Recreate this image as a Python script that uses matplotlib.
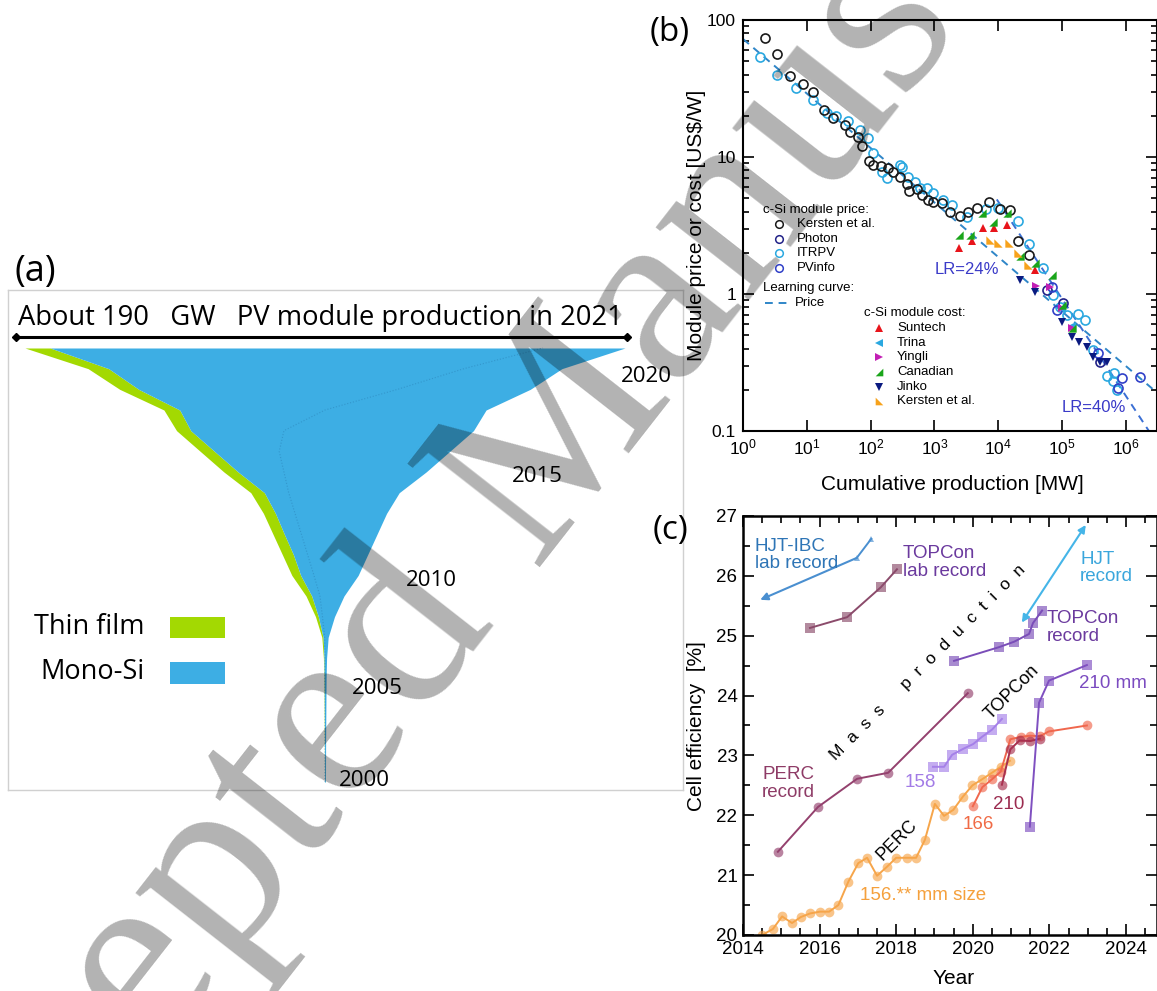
import matplotlib
matplotlib.use("Agg")
import matplotlib.pyplot as plt
import matplotlib.ticker as mticker
from matplotlib.lines import Line2D
from matplotlib.patches import Rectangle
from matplotlib.colors import to_rgba
import numpy as np

plt.rcParams['font.family'] = ['Liberation Sans', 'DejaVu Sans']

# ---------------- panel (a): PV module production per year [GW] ----------------
years_a = list(range(2000, 2022))
thin_film_gw = [0.05, 0.05, 0.05, 0.08, 0.1, 0.1, 0.2, 0.4, 0.9, 1.8, 2.8,
                3.5, 3.6, 3.8, 4.3, 4.5, 4.5, 4.5, 5.0, 6.0, 6.5, 8.0]
mono_si_gw = [0.1, 0.1, 0.12, 0.15, 0.2, 0.2, 0.3, 0.5, 1.3, 2.6, 4.2,
              4.5, 5.4, 6.2, 7.7, 14.5, 20.5, 29.5, 46, 82, 112.5, 156]
multi_si_gw = [0.15, 0.2, 0.23, 0.27, 0.3, 0.4, 0.5, 1.1, 3.8, 7.6, 14,
               19, 24, 29, 35, 45, 54, 60, 51, 42, 31, 26]
year_labels_a = ['2000', '2005', '2010', '2015', '2020']

# ---------------- panel (b): module price / cost vs cumulative production ----------------
kersten_price_x = [2.2, 3.4, 5.5, 8.7, 12.5, 18.6, 26, 40, 48, 63, 74, 94, 109, 145, 187,
                   224, 288, 370, 400, 540, 630, 800, 950, 1300, 1740, 2500, 3400, 4700,
                   7200, 10800, 15500, 20600, 30000]
kersten_price_y = [74, 56, 39, 34, 30, 22, 19.3, 17, 15.2, 14, 12, 9.4, 8.7, 8.6, 8.3,
                   7.8, 7.1, 6.3, 5.6, 5.8, 5.3, 4.85, 4.7, 4.6, 4.0, 3.7, 4.0, 4.25,
                   4.7, 4.17, 4.1, 2.44, 1.93]
itrpv_x = [1.85, 3.4, 6.8, 12.5, 21, 29, 44, 68, 91, 110, 150, 180, 290, 310, 390, 500,
           590, 760, 950, 1350, 1900, 3200, 6400, 10000, 20600, 30000, 50000, 72000,
           93000, 120000, 178000, 230000, 310000, 500000, 630000, 720000, 650000]
itrpv_y = [54, 40, 32, 26, 21, 20, 18.3, 15.7, 13.8, 10.7, 7.8, 7.0, 8.7, 8.45, 7.1, 6.6,
           5.95, 5.9, 5.5, 4.85, 4.5, 3.65, 4.17, 4.25, 3.4, 2.3, 1.55, 0.98,
           0.80, 0.70, 0.72, 0.65, 0.39, 0.25, 0.23, 0.20, 0.265]
photon_x = [58000, 105000, 400000]
photon_y = [1.07, 0.86, 0.32]
pvinfo_x = [69000, 84000, 365000, 760000, 870000, 1.66e6]
pvinfo_y = [1.12, 0.76, 0.37, 0.206, 0.245, 0.248]

suntech_x = [2450, 3900, 5800, 8600, 13700, 38000]
suntech_y = [2.17, 2.44, 3.03, 3.03, 3.19, 1.50]
trina_x = [100000, 145000]
trina_y = [0.78, 0.58]
yingli_x = [39000, 65000, 100000, 145000]
yingli_y = [1.14, 1.12, 0.79, 0.56]
canadian_x = [2450, 3600, 5600, 8300, 13700, 22000, 38000, 69000, 100000, 145000]
canadian_y = [2.70, 2.70, 3.9, 3.36, 3.9, 1.89, 1.68, 1.38, 0.83, 0.565]
jinko_x = [22000, 38000, 100000, 145000, 185000, 245000, 310000, 400000, 500000]
jinko_y = [1.27, 1.03, 0.625, 0.485, 0.447, 0.41, 0.347, 0.32, 0.32]
kersten_cost_x = [7400, 10000, 15000, 20500, 29500]
kersten_cost_y = [2.48, 2.36, 2.36, 2.0, 1.63]

lc24_x = [1, 3.1e6]
lc24_y = [72.7, 0.19]
lc40_x = [9.5e3, 2.3e6]
lc40_y = [4.9, 0.1]

# ---------------- panel (c): cell efficiency [%] vs year ----------------
perc_record_t = [2014.91, 2015.96, 2016.98, 2017.79, 2019.87]
perc_record_e = [21.39, 22.14, 22.61, 22.71, 24.04]
topcon_lab_t = [2015.75, 2016.72, 2017.60, 2018.02]
topcon_lab_e = [25.13, 25.31, 25.81, 26.11]
hjt_ibc_t = [2016.97, 2017.35]
hjt_ibc_e = [26.30, 26.62]
hjt_ibc_arrow_t = [2016.97, 2014.45]
hjt_ibc_arrow_e = [26.30, 25.60]
hjt_rec_arrow_t = [2021.28, 2022.95]
hjt_rec_arrow_e = [25.22, 26.85]
topcon_rec_t = [2019.51, 2020.69, 2021.08, 2021.47, 2021.57, 2021.81]
topcon_rec_e = [24.58, 24.81, 24.90, 25.03, 25.21, 25.42]
topcon158_t = [2018.96, 2019.25, 2019.46, 2019.75, 2020.01, 2020.24, 2020.50, 2020.76]
topcon158_e = [22.81, 22.81, 23.01, 23.11, 23.19, 23.31, 23.43, 23.61]
topcon210_t = [2021.49, 2021.73, 2021.99, 2022.98]
topcon210_e = [21.81, 23.88, 24.25, 24.51]
perc156_t = [2014.50, 2014.78, 2015.02, 2015.28, 2015.51, 2015.75, 2016.01, 2016.25,
             2016.49, 2016.75, 2017.01, 2017.24, 2017.50, 2017.76, 2018.00, 2018.28,
             2018.52, 2018.75, 2019.01, 2019.25, 2019.49, 2019.74, 2019.99, 2020.24,
             2020.50, 2020.73, 2020.97]
perc156_e = [20.0, 20.1, 20.31, 20.2, 20.3, 20.36, 20.39, 20.39, 20.5, 20.89, 21.2,
             21.29, 20.99, 21.14, 21.29, 21.29, 21.29, 21.59, 22.19, 21.99, 22.09,
             22.31, 22.5, 22.6, 22.71, 22.81, 22.91]
perc166_t = [2020.0, 2020.25, 2020.5, 2020.73, 2020.98, 2021.25, 2021.5, 2021.75, 2021.98, 2022.98]
perc166_e = [22.15, 22.47, 22.6, 22.73, 23.27, 23.31, 23.33, 23.32, 23.4, 23.5]
perc210_t = [2020.76, 2020.98, 2021.22, 2021.5, 2021.75]
perc210_e = [22.51, 23.1, 23.25, 23.24, 23.28]

# ------------------------------------------------------------------
W, H = 1157, 991
fig = plt.figure(figsize=(W / 100, H / 100), dpi=100)


def fx(px):
    return px / W


def fy(py):
    return 1 - py / H


def box(l, t, r, b):
    return [fx(l), fy(b), (r - l) / W, (b - t) / H]


# ================= (a) =================
BLUE = '#3DAEE4'
GREEN = '#A3D902'
ax_a = fig.add_axes(box(8, 290, 683, 790))
tf = np.array(thin_film_gw)
mono = np.array(mono_si_gw)
multi = np.array(multi_si_gw)
total = tf + mono + multi
left = -total / 2
ax_a.fill_betweenx(years_a, left, left + tf, color=GREEN, lw=0)
ax_a.fill_betweenx(years_a, left + tf, total / 2, color=BLUE, lw=0)
ax_a.plot(left + tf + mono, years_a, ls=':', color='#2a7fb5', lw=0.8, alpha=0.5)
ax_a.set_xlim(-(325 - 8) / 3.158, (683 - 325) / 3.158)
ax_a.set_ylim(2021 - (790 - 348) / 20.67, 2021 + (348 - 290) / 20.67)
ax_a.set_xticks([])
ax_a.set_yticks([])
for s in ax_a.spines.values():
    s.set_color('#d0d0d0')
    s.set_linewidth(1)

fa = ['Open Sans', 'DejaVu Sans']
fig.text(fx(15), fy(272), '(a)', fontsize=26, family=fa, va='center', ha='left')
fig.text(fx(18), fy(318), 'About 190   GW   PV module production in 2021',
         fontsize=19.7, family=fa, va='center', ha='left')
ax_a.plot([0.0119, 0.917], [0.906, 0.906], transform=ax_a.transAxes, color='black',
          lw=2.2, marker='D', ms=4, clip_on=False)
for lab, (px, py) in zip(year_labels_a, [(364, 781), (377, 688), (431, 580), (537, 477), (646, 376)]):
    fig.text(fx(px), fy(py), lab, fontsize=16, family=fa, ha='center', va='center')

fig.text(fx(145), fy(627), 'Thin film', fontsize=19.5, family=fa, ha='right', va='center')
fig.text(fx(145), fy(672), 'Mono-Si', fontsize=19.5, family=fa, ha='right', va='center')
fig.add_artist(Rectangle((fx(170), fy(638)), 55 / W, 21 / H, transform=fig.transFigure,
                         facecolor=GREEN, edgecolor='none'))
fig.add_artist(Rectangle((fx(170), fy(684)), 55 / W, 22 / H, transform=fig.transFigure,
                         facecolor=BLUE, edgecolor='none'))

# ================= (b) =================
ax_b = fig.add_axes(box(743, 20, 1157, 431))
ax_b.set_xscale('log')
ax_b.set_yscale('log')
ax_b.set_xlim(1, 3.08e6)
ax_b.set_ylim(0.1, 100)

C_K = '#1a1a1a'
C_PH = '#222288'
C_IT = '#2aa8e0'
C_PV = '#3040c8'
C_SUN = '#e8141b'
C_TRI = '#2aa8e0'
C_YIN = '#c21fb4'
C_CAN = '#1aa51a'
C_JIN = '#0a1a80'
C_KC = '#f7a21b'
C_LC = '#2f86c8'

M_CAN = [(-1, -1), (1, -1), (1, 1), (-1, -1)]
M_KC = [(-1, 1), (-1, -1), (1, -1), (-1, 1)]

lc_kw = dict(ls=(0, (4, 3)), lw=1.4, color=C_LC)
ax_b.plot(lc24_x, lc24_y, **lc_kw)
ax_b.plot(lc40_x, lc40_y, ls=(0, (4, 3)), lw=1.4, color='#3b6fd4')

circ = dict(ls='none', marker='o', ms=6.5, mfc='none', mew=1.2)
ax_b.plot(itrpv_x, itrpv_y, mec=C_IT, **circ)
ax_b.plot(kersten_price_x, kersten_price_y, mec=C_K, **circ)
ax_b.plot(photon_x, photon_y, mec=C_PH, **circ)
ax_b.plot(pvinfo_x, pvinfo_y, mec=C_PV, **circ)

tri = dict(ls='none', ms=6, mew=0)
ax_b.plot(suntech_x, suntech_y, marker='^', color=C_SUN, **tri)
ax_b.plot(trina_x, trina_y, marker='<', color=C_TRI, **tri)
ax_b.plot(yingli_x, yingli_y, marker='>', color=C_YIN, **tri)
ax_b.plot(canadian_x, canadian_y, marker=M_CAN, color=C_CAN, **tri)
ax_b.plot(jinko_x, jinko_y, marker='v', color=C_JIN, **tri)
ax_b.plot(kersten_cost_x, kersten_cost_y, marker=M_KC, color=C_KC, **tri)

ax_b.xaxis.set_major_locator(mticker.LogLocator(base=10, numticks=12))
ax_b.xaxis.set_minor_locator(mticker.NullLocator())
ax_b.yaxis.set_major_locator(mticker.FixedLocator([0.1, 1, 10, 100]))
ax_b.yaxis.set_major_formatter(mticker.FuncFormatter(lambda v, p: '%g' % v))
ax_b.yaxis.set_minor_locator(mticker.LogLocator(base=10, subs=np.arange(2, 10), numticks=12))
ax_b.yaxis.set_minor_formatter(mticker.NullFormatter())

ax_b.tick_params(which='both', direction='in', top=True, right=True, labelsize=12.5, width=1.2)
ax_b.tick_params(which='major', length=8, pad=5)
ax_b.tick_params(which='minor', length=4)
for s in ax_b.spines.values():
    s.set_linewidth(1.5)

fig.text(fx(697), fy(225), 'Module price or cost [US$/W]', rotation=90, fontsize=15,
         ha='center', va='center')
fig.text(fx(952), fy(485), 'Cumulative production [MW]', fontsize=15, ha='center', va='center')
fig.text(fx(670), fy(33), '(b)', fontsize=24, family=fa, ha='center', va='center')

fig.text(fx(935), fy(269), 'LR=24%', fontsize=12, color='#3a3ac8', va='center')
fig.text(fx(1062), fy(408), 'LR=40%', fontsize=12, color='#3a3ac8', va='center')
fs_leg = 9.5


def leg_marker(px, py, **kw):
    fig.add_artist(Line2D([fx(px)], [fy(py)], transform=fig.transFigure, **kw))


fig.text(fx(763), fy(210), 'c-Si module price:', fontsize=fs_leg, va='center')
for i, (lab, col) in enumerate([('Kersten et al.', C_K), ('Photon', C_PH),
                                 ('ITRPV', C_IT), ('PVinfo', C_PV)]):
    py = 224 + i * 14.7
    leg_marker(779, py, marker='o', ms=5.5, mfc='none', mec=col, mew=1.1, ls='none')
    fig.text(fx(797), fy(py), lab, fontsize=fs_leg, va='center')
fig.text(fx(763), fy(288), 'Learning curve:', fontsize=fs_leg, va='center')
fig.add_artist(Line2D([fx(765), fx(790)], [fy(303), fy(303)], transform=fig.transFigure, **lc_kw))
fig.text(fx(795), fy(303), 'Price', fontsize=fs_leg, va='center')

fig.text(fx(864), fy(313), 'c-Si module cost:', fontsize=fs_leg, va='center')
for i, (lab, col, mk) in enumerate([('Suntech', C_SUN, '^'), ('Trina', C_TRI, '<'),
                                     ('Yingli', C_YIN, '>'), ('Canadian', C_CAN, M_CAN),
                                     ('Jinko', C_JIN, 'v'), ('Kersten et al.', C_KC, M_KC)]):
    py = 328 + i * 14.7
    leg_marker(879, py, marker=mk, ms=5.5, color=col, mew=0, ls='none')
    fig.text(fx(897), fy(py), lab, fontsize=fs_leg, va='center')

# ================= (c) =================
ax_c = fig.add_axes(box(743, 516, 1157, 935))
ax_c.set_xlim(2014, 2024.81)
ax_c.set_ylim(20, 27)


def series(t, e, col, mk, ms=7, a=0.65):
    ax_c.plot(t, e, color=col, lw=1.4, marker=mk, ms=ms, mfc=to_rgba(col, a), mec=to_rgba(col, a), mew=0)


C_PERCREC = '#94416e'
C_TLAB = '#8b4b6b'
C_IBC = '#4a8fd0'
C_TREC = '#7a4db8'
C_HJT = '#45b5e8'
C_158 = '#a580e8'
C_210MM = '#7f4fc0'
C_156 = '#f6a54a'
C_166 = '#f0674d'
C_210 = '#a8304f'

series(perc_record_t, perc_record_e, C_PERCREC, 'o')
series(topcon_lab_t, topcon_lab_e, C_TLAB, 's')
series(hjt_ibc_t, hjt_ibc_e, C_IBC, '^', ms=5)
ax_c.annotate('', xy=(hjt_ibc_arrow_t[1], hjt_ibc_arrow_e[1]),
              xytext=(hjt_ibc_arrow_t[0], hjt_ibc_arrow_e[0]),
              arrowprops=dict(arrowstyle='-|>', color=C_IBC, lw=1.5, mutation_scale=11,
                              shrinkA=0, shrinkB=0))
ax_c.annotate('', xy=(hjt_rec_arrow_t[1], hjt_rec_arrow_e[1]),
              xytext=(hjt_rec_arrow_t[0], hjt_rec_arrow_e[0]),
              arrowprops=dict(arrowstyle='<|-|>', color=C_HJT, lw=1.5, mutation_scale=11,
                              shrinkA=0, shrinkB=0))
series(topcon_rec_t, topcon_rec_e, C_TREC, 's')
series(perc156_t, perc156_e, C_156, 'o')
series(topcon158_t, topcon158_e, C_158, 's')
series(perc166_t, perc166_e, C_166, 'o')
series(perc210_t, perc210_e, C_210, 'o')
series(topcon210_t, topcon210_e, C_210MM, 's')

ax_c.xaxis.set_major_locator(mticker.MultipleLocator(2))
ax_c.xaxis.set_minor_locator(mticker.MultipleLocator(0.5))
ax_c.yaxis.set_major_locator(mticker.MultipleLocator(1))
ax_c.yaxis.set_minor_locator(mticker.MultipleLocator(0.5))
ax_c.tick_params(which='both', direction='in', top=True, right=True, labelsize=13.5, width=1.2)
ax_c.tick_params(which='major', length=8, pad=4)
ax_c.tick_params(which='minor', length=5)
for s in ax_c.spines.values():
    s.set_linewidth(1.8)

fig.text(fx(697), fy(726), 'Cell efficiency  [%]', rotation=90, fontsize=15, ha='center', va='center')
fig.text(fx(954), fy(978), 'Year', fontsize=15, ha='center', va='center')
fig.text(fx(670), fy(530), '(c)', fontsize=24, family=fa, ha='center', va='center')

tk = dict(fontsize=13.5, va='center', ha='left', linespacing=1.05)
ax_c.text(2014.31, 26.35, 'HJT-IBC\nlab record', color='#2e75b6', **tk)
ax_c.text(2018.18, 26.22, 'TOPCon\nlab record', color='#6b3a9e', **tk)
ax_c.text(2022.80, 26.13, 'HJT\nrecord', color='#3aa6dc', **tk)
ax_c.text(2021.94, 25.14, 'TOPCon\nrecord', color='#6b3a9e', **tk)
ax_c.text(2022.77, 24.21, '210 mm', color='#7b4bc0', **tk)
ax_c.text(2014.50, 22.53, 'PERC\nrecord', color='#8e3b66', **tk)
ax_c.text(2018.23, 22.54, '158', color='#a27be6', **tk)
ax_c.text(2017.05, 20.66, '156.** mm size', color='#f5a03c', **tk)
ax_c.text(2019.74, 21.84, '166', color='#f06a45', **tk)
ax_c.text(2020.53, 22.18, '210', color='#9b2c50', **tk)
ax_c.text(2018.02, 21.59, 'PERC', rotation=45, fontsize=13, ha='center', va='center')
ax_c.text(2021.02, 24.06, 'TOPCon', rotation=45, fontsize=13, ha='center', va='center')
ax_c.text(2018.83, 24.56, 'M  a  s  s      p  r  o  d  u  c  t  i  o  n', rotation=45,
          fontsize=12.5, ha='center', va='center')

# watermark
fig.text(fx(-97), fy(1383), 'Accepted Manuscript', rotation=52, fontsize=184,
         family=['Liberation Serif', 'DejaVu Serif'], color='black', alpha=0.3,
         ha='left', va='baseline', rotation_mode='anchor', zorder=100)

fig.savefig('out.png', dpi=100)
